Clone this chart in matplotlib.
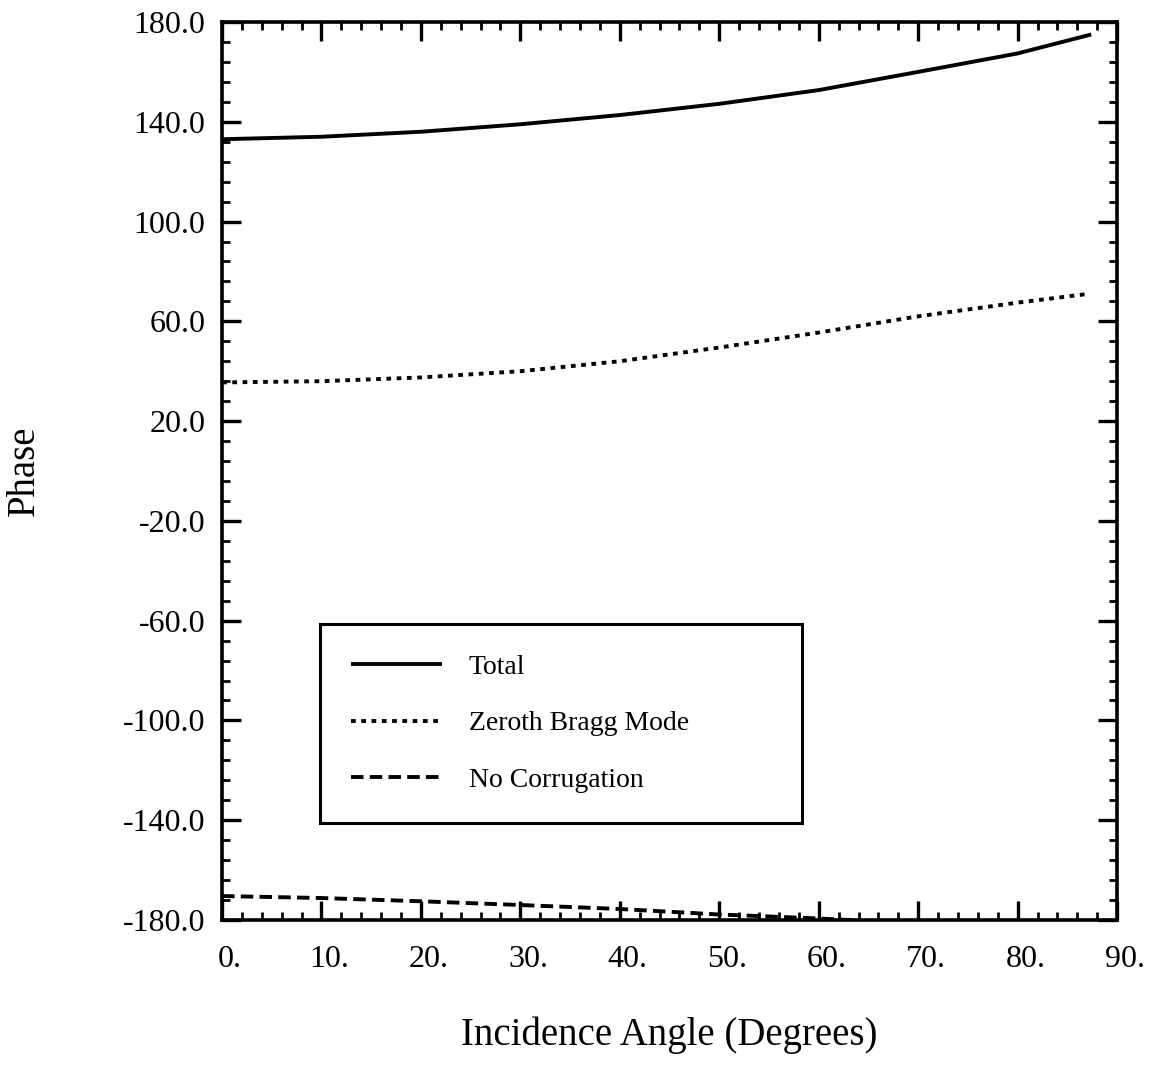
import numpy as np
import matplotlib
matplotlib.use("Agg")
import matplotlib.pyplot as plt
import matplotlib.transforms as mtransforms
from matplotlib.ticker import MultipleLocator, FormatStrFormatter

plt.rcParams['font.family'] = ['Liberation Serif', 'DejaVu Serif']
plt.rcParams['axes.unicode_minus'] = False
plt.rcParams['lines.scale_dashes'] = False

# values
angulo_total = [0, 10, 20, 30, 40, 50, 60, 70, 80, 87.4]
fase_total = [133.0, 134.0, 136.0, 139.0, 142.7, 147.2, 152.7, 160.0, 167.4, 175.0]

angulo_bragg = [0, 10, 20, 30, 40, 50, 60, 70, 80, 87.1]
fase_bragg = [35.5, 36.0, 37.5, 40.0, 44.0, 49.5, 55.5, 62.0, 67.5, 71.0]

angulo_sem = [0, 10, 20, 30, 40, 50, 60, 64]
fase_sem = [-170.4, -171.2, -172.5, -174.0, -175.6, -177.8, -179.4, -180.2]

rotulos = ['Total', 'Zeroth Bragg Mode', 'No Corrugation']

fig = plt.figure(figsize=(11.6, 10.68), dpi=100)
ax = fig.add_axes([0.1914, 0.1386, 0.7716, 0.8408])

lw = 2.8
ax.plot(angulo_total, fase_total, color='black', lw=lw, solid_capstyle='butt',
        label=rotulos[0])
ax.plot(angulo_bragg, fase_bragg, color='black', lw=lw, dashes=(3.4, 4.0),
        label=rotulos[1])
ax.plot(angulo_sem, fase_sem, color='black', lw=lw, dashes=(9.0, 4.5),
        label=rotulos[2])

ax.set_xlim(0, 90)
ax.set_ylim(-180, 180)

ax.xaxis.set_major_locator(MultipleLocator(10))
ax.xaxis.set_minor_locator(MultipleLocator(2))
ax.yaxis.set_major_locator(MultipleLocator(40, offset=20))
ax.yaxis.set_minor_locator(MultipleLocator(8, offset=4))
ax.xaxis.set_major_formatter(FormatStrFormatter('%d.'))
ax.yaxis.set_major_formatter(FormatStrFormatter('%.1f'))

ax.tick_params(which='both', direction='in', top=True, right=True, labelsize=23)
ax.tick_params(which='major', length=14, width=2.4)
ax.tick_params(which='minor', length=6, width=2.0)
ax.tick_params(axis='x', pad=18)
ax.tick_params(axis='y', pad=12)

# numbers centred on the digits, not the trailing dot
desloc = mtransforms.ScaledTranslation(8 / 100, 0, fig.dpi_scale_trans)
for lbl in ax.get_xticklabels():
    lbl.set_transform(lbl.get_transform() + desloc)

for s in ax.spines.values():
    s.set_linewidth(2.6)

ax.set_xlabel('Incidence Angle (Degrees)', fontsize=28)
ax.set_ylabel('Phase', fontsize=28)
ax.xaxis.set_label_coords(0.5, -0.107)
ax.yaxis.set_label_coords(-0.2, 0.5)

leg = ax.legend(loc='upper left', bbox_to_anchor=(0.1095, 0.109, 0.5385, 0.2206),
                mode='expand', borderaxespad=0, fontsize=20, frameon=True,
                fancybox=False, edgecolor='black', framealpha=1,
                handlelength=3.3, handletextpad=0.95, borderpad=1.1,
                labelspacing=1.11)
leg.get_frame().set_linewidth(2.2)

fig.savefig('out.png', dpi=100)
